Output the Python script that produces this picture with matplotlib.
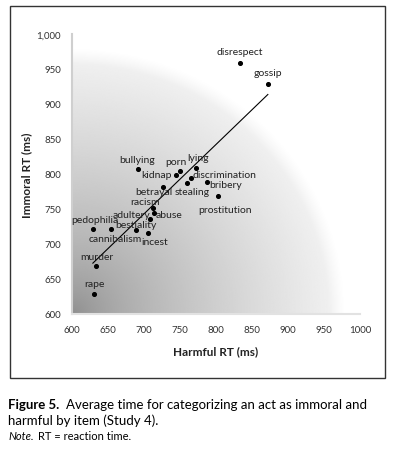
import numpy as np
import matplotlib
matplotlib.use("Agg")
import matplotlib.pyplot as plt
from matplotlib.patches import Rectangle

# item data (ms)
items = ["disrespect", "gossip", "bullying", "porn", "kidnap", "lying",
         "discrimination", "stealing", "bribery", "betrayal", "prostitution",
         "racism", "abuse", "adultery", "pedophilia", "cannibalism",
         "bestiality", "incest", "murder", "rape"]
harmful_rt = [833, 872, 691, 750, 744, 772, 765, 760, 787, 727, 803,
              712, 714, 708, 629, 654, 689, 705, 634, 631]
immoral_rt = [959, 929, 807, 805, 799, 809, 795, 787, 788, 782, 769,
              752, 744, 736, 721, 721, 720, 716, 668, 629]

xticks = [600, 650, 700, 750, 800, 850, 900, 950, 1000]
xtick_labels = ["600", "650", "700", "750", "800", "850", "900", "950", "1000"]
yticks = [600, 650, 700, 750, 800, 850, 900, 950, 1000]
ytick_labels = ["600", "650", "700", "750", "800", "850", "900", "950", "1,000"]

# label placement: (dx, dy in pixels, ha)
label_pos = {
    "disrespect": (0, 11, "center"), "gossip": (0, 11, "center"),
    "bullying": (0, 10, "center"), "porn": (-4, 9, "center"),
    "kidnap": (-4, 0, "right"), "lying": (2, 10, "center"),
    "discrimination": (2, 3, "left"), "stealing": (5, -8, "center"),
    "bribery": (3, -2, "left"), "betrayal": (-10, -5, "center"),
    "prostitution": (7, -14, "center"), "racism": (-8, 6, "center"),
    "abuse": (2, -1, "left"), "adultery": (-18, 4, "center"),
    "pedophilia": (2, 10, "center"), "cannibalism": (4, -9, "center"),
    "bestiality": (0, 5, "center"), "incest": (7, -9, "center"),
    "murder": (0, 10, "center"), "rape": (0, 10, "center"),
}

font = "Lato"
fig = plt.figure(figsize=(3.95, 4.56), dpi=100)
ax = fig.add_axes([72 / 395, 1 - 315 / 456, 288 / 395, 280 / 456])

# radial grey background, soft outer edge
gx, gy = np.meshgrid(np.linspace(0, 1, 400), np.linspace(0, 1, 400))
r = np.sqrt(gx ** 2 + gy ** 2) / 0.93
inner = 0.55 + 0.40 * np.clip(r, 0, 1) ** 0.7
edge = np.clip((r - 0.96) / 0.06, 0, 1)
shade = inner * (1 - edge) + edge
ax.imshow(shade, cmap="gray", vmin=0, vmax=1, origin="lower",
          extent=[600, 1000, 600, 1000], aspect="auto", zorder=0,
          interpolation="bilinear")

ax.scatter(harmful_rt, immoral_rt, s=7, color="black", zorder=3)

# least squares trend line
coef = np.polyfit(harmful_rt, immoral_rt, 1)
xs = np.array([min(harmful_rt), max(harmful_rt)])
ax.plot(xs, np.polyval(coef, xs), color="black", lw=0.8, zorder=2)

for name, hx, iy in zip(items, harmful_rt, immoral_rt):
    dx, dy, ha = label_pos[name]
    ax.annotate(name, (hx, iy), xytext=(dx, dy), textcoords="offset pixels",
                ha=ha, va="center", fontsize=7.5, family=font, color="#222222",
                zorder=4)

ax.set_xlim(600, 1000)
ax.set_ylim(600, 1000)
ax.set_xticks(xticks)
ax.set_xticklabels(xtick_labels)
ax.set_yticks(yticks)
ax.set_yticklabels(ytick_labels)
ax.tick_params(length=0, labelsize=7, labelcolor="#333333", pad=8)
for lab in ax.get_xticklabels() + ax.get_yticklabels():
    lab.set_family(font)
for s in ["top", "right"]:
    ax.spines[s].set_visible(False)
ax.spines["left"].set_color("#cfcfcf")
ax.spines["left"].set_linewidth(1.5)
ax.spines["bottom"].set_color("#e2e2e2")
ax.spines["bottom"].set_linewidth(1.5)

ax.set_xlabel("Harmful RT (ms)", fontsize=8.5, fontweight="bold", family=font,
              color="#222222", labelpad=8)
ax.set_ylabel("Immoral RT (ms)", fontsize=8.5, fontweight="bold", family=font,
              color="#222222", labelpad=3)

# frame around the chart
fig.patches.append(Rectangle((10 / 395, 1 - 379 / 456), 375 / 395, 372 / 456,
                             transform=fig.transFigure, fill=False,
                             edgecolor="#333333", lw=1))

# caption
renderer = fig.canvas.get_renderer()


def run_on(first, rest, y, size, first_kw, gap):
    t = fig.text(8 / 395, 1 - y / 456, first, fontsize=size, family=font,
                 va="center", **first_kw)
    bb = t.get_window_extent(renderer)
    fig.text((bb.x1 + gap) / 395, 1 - y / 456, rest, fontsize=size,
             family=font, va="center")


run_on("Figure 5.", "Average time for categorizing an act as immoral and",
       405, 9.5, {"fontweight": "bold"}, 7)
fig.text(8 / 395, 1 - 421 / 456, "harmful by item (Study 4).", fontsize=9.5,
         family=font, va="center")
run_on("Note.", "RT = reaction time.", 437, 8, {"style": "italic"}, 4)

fig.savefig("out.png", dpi=100)
